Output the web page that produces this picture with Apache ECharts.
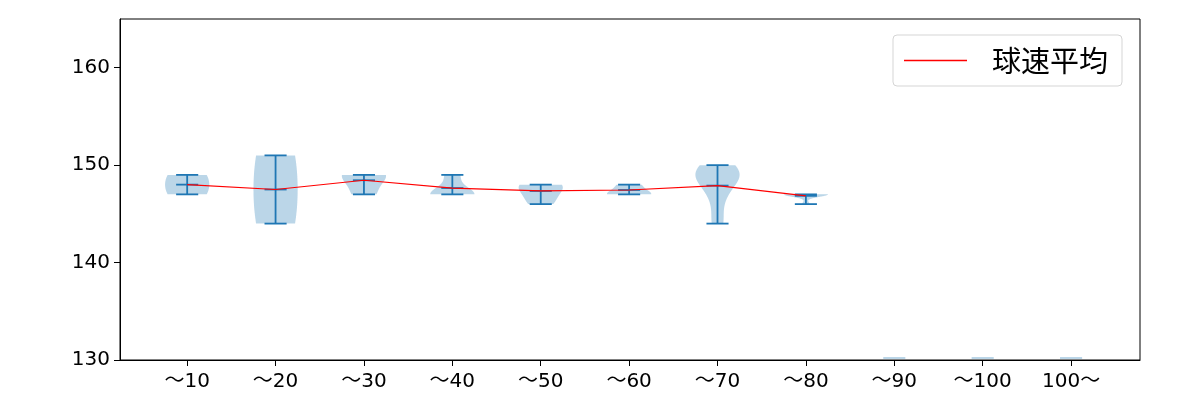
<!DOCTYPE html>
<html>
<head>
<meta charset="utf-8">
<script src="https://cdn.jsdelivr.net/npm/echarts@6/dist/echarts.min.js"></script>
<style>html,body{margin:0;padding:0;background:#fff}#c{width:1200px;height:400px}</style>
</head>
<body>
<div id="c"></div>
<script>
// ---- data ----
const categories = ['～10','～20','～30','～40','～50','～60','～70','～80','～90','～100','100～'];
// estimated pitch-speed samples per bucket (km/h), read from the violin shapes
const speeds10 = [147, 149];
const speeds20 = [144, 151];
const speeds30 = [147, 149, 149];
const speeds40 = [147, 147, 147, 149];
const speeds50 = [146, 147, 148, 148];
const speeds60 = [147, 147, 148];
const speeds70 = [144, 144, 146, 147, 148, 148, 149, 149, 149, 149, 149, 150, 150, 150];
const speeds80 = [146, 147, 147, 147, 147, 147, 147];
const speeds90 = [];
const speeds100 = [];
const speeds100p = [];
// average speed line (球速平均)
const avgSpeed = [148.0, 147.5, 148.45, 147.65, 147.35, 147.45, 147.9, 146.85];
const yTicks = [130, 140, 150, 160];
const seriesName = '球速平均';

const sampleSets = [speeds10, speeds20, speeds30, speeds40, speeds50, speeds60, speeds70, speeds80, speeds90, speeds100, speeds100p];

function kdeProfile(s, steps) {
  const n = s.length;
  const mean = s.reduce((a, b) => a + b, 0) / n;
  const variance = s.reduce((a, b) => a + (b - mean) * (b - mean), 0) / (n - 1);
  const bw = Math.sqrt(variance) * Math.pow(n, -0.2);
  const lo = Math.min(...s), hi = Math.max(...s);
  const pts = [];
  for (let i = 0; i <= steps; i++) {
    const y = lo + (hi - lo) * i / steps;
    let d = 0;
    for (const v of s) { const z = (y - v) / bw; d += Math.exp(-0.5 * z * z); }
    pts.push([y, d]);
  }
  const dmax = Math.max(...pts.map(p => p[1]));
  return { lo, hi, pts: pts.map(p => [p[0], p[1] / dmax]) };
}

const BLUE = '#1f77b4';
const FILL = 'rgba(31,119,180,0.3)';
const FONT = '"DejaVu Sans", "Noto Sans CJK JP"';
const CJK = '"Noto Sans CJK JP"';

function renderViolin(params, api) {
  const pos = api.value(0);
  const idx = pos - 1;
  const s = sampleSets[idx];
  const unit = api.size([1, 0])[0];
  const children = [];
  if (!s || s.length === 0) {
    const p = api.coord([pos, 130]);
    children.push({ type: 'rect', shape: { x: p[0] - 0.125 * unit, y: p[1] - 3, width: 0.25 * unit, height: 2 }, style: { fill: FILL } });
    return { type: 'group', children };
  }
  const prof = kdeProfile(s, 100);
  const left = [], right = [];
  for (const [y, d] of prof.pts) {
    const c = api.coord([pos, y]);
    const hw = 0.25 * unit * d;
    left.push([c[0] - hw, c[1]]);
    right.push([c[0] + hw, c[1]]);
  }
  children.push({ type: 'polygon', shape: { points: left.concat(right.reverse()) }, style: { fill: FILL, stroke: null } });
  const top = api.coord([pos, prof.hi]);
  const bot = api.coord([pos, prof.lo]);
  const mid = api.coord([pos, avgSpeed[idx]]);
  const cw = 0.125 * unit;
  const ls = { stroke: BLUE, lineWidth: 1.8 };
  children.push({ type: 'line', shape: { x1: top[0], y1: top[1], x2: bot[0], y2: bot[1] }, style: ls });
  for (const p of [top, bot, mid]) {
    children.push({ type: 'line', shape: { x1: p[0] - cw, y1: p[1], x2: p[0] + cw, y2: p[1] }, style: ls });
  }
  return { type: 'group', children };
}

const chart = echarts.init(document.getElementById('c'), null, { renderer: 'canvas' });
chart.setOption({
  animation: false,
  backgroundColor: '#fff',
  textStyle: { fontFamily: FONT },
  grid: { left: 120, right: 60, top: 19, bottom: 40, show: true, borderColor: '#000', borderWidth: 1, backgroundColor: 'transparent' },
  legend: {
    show: true,
    left: 893, top: 35,
    padding: [11, 14, 11, 11],
    borderColor: '#d5d5d5', borderWidth: 1, borderRadius: 4,
    backgroundColor: 'rgba(255,255,255,0.8)',
    itemWidth: 63, itemHeight: 1.5,
    formatter: name => '{t|' + name + '}',
    textStyle: {
      color: '#000',
      rich: { t: { fontFamily: CJK, fontSize: 29, color: '#000', padding: [0, 0, 0, 20] } }
    },
    data: [{ name: seriesName, icon: 'rect' }]
  },
  xAxis: {
    type: 'value', min: 0.24, max: 11.78,
    splitLine: { show: false },
    axisLine: { show: true, lineStyle: { color: '#000', width: 1 } },
    axisTick: { show: true, inside: false, length: 6, lineStyle: { color: '#000' }, customValues: categories.map((c, i) => i + 1) },
    axisLabel: { color: '#000', fontSize: 20, fontFamily: FONT, margin: 12, customValues: categories.map((c, i) => i + 1), formatter: v => categories[Math.round(v) - 1] || '' }
  },
  yAxis: {
    type: 'value', min: 130, max: 165,
    splitLine: { show: false },
    axisLine: { show: true, lineStyle: { color: '#000', width: 1 } },
    axisTick: { show: true, inside: false, length: 6, lineStyle: { color: '#000' }, customValues: yTicks },
    axisLabel: { color: '#000', fontSize: 20, fontFamily: FONT, margin: 10, customValues: yTicks }
  },
  series: [
    {
      type: 'custom', name: 'violin', renderItem: renderViolin,
      data: categories.map((c, i) => [i + 1]), encode: { x: 0 }, z: 2, silent: true
    },
    {
      type: 'line', name: seriesName, z: 5,
      data: avgSpeed.map((v, i) => [i + 1, v]),
      symbol: 'none', showSymbol: false,
      lineStyle: { color: 'red', width: 1.2 }, itemStyle: { color: 'red' }
    }
  ]
});
</script>
</body>
</html>
